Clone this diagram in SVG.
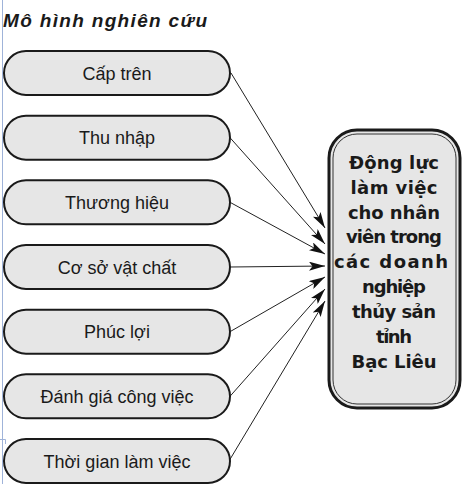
<svg xmlns="http://www.w3.org/2000/svg" width="468" height="492" viewBox="0 0 468 492">
<style>
.pill{fill:#e6e6e6;stroke:#1a1a1a;stroke-width:2}
.pt{font-family:"Liberation Sans",Arial,sans-serif;font-size:18px;fill:#1a1a1a;text-anchor:middle}
.tt{font-family:"DejaVu Sans","Liberation Sans",sans-serif;font-weight:bold;font-size:18px;fill:#1a1a1a;text-anchor:middle}
.conn{stroke:#222;stroke-width:1;fill:none}
</style>
<defs>
<marker id="ah" viewBox="0 0 16 9" refX="16" refY="4.5" markerWidth="16" markerHeight="9" orient="auto" markerUnits="userSpaceOnUse">
<path d="M0,0 L16,4.5 L0,9 L3.5,4.5 z" fill="#111"/>
</marker>
</defs>
<rect width="468" height="492" fill="#ffffff"/>
<g id="margin" stroke="#9fb3d9" stroke-width="1" fill="none">
<line x1="2.5" y1="0" x2="2.5" y2="484"/>
<polyline points="0,439.5 5.5,439.5 5.5,444"/>
</g>
<text id="title" x="3" y="27" font-family="'Liberation Sans',Arial,sans-serif" font-weight="bold" font-style="italic" font-size="19" fill="#1a1a1a" textLength="204" lengthAdjust="spacing">Mô hình nghiên cứu</text>
<g id="connectors">
<line class="conn" x1="231" y1="73" x2="325" y2="228" marker-end="url(#ah)"/>
<line class="conn" x1="230" y1="137.7" x2="325" y2="244" marker-end="url(#ah)"/>
<line class="conn" x1="230" y1="202.3" x2="325" y2="254" marker-end="url(#ah)"/>
<line class="conn" x1="230" y1="267" x2="325" y2="266" marker-end="url(#ah)"/>
<line class="conn" x1="230" y1="331.7" x2="325" y2="277" marker-end="url(#ah)"/>
<line class="conn" x1="230" y1="396.3" x2="325" y2="289" marker-end="url(#ah)"/>
<line class="conn" x1="229" y1="461" x2="325" y2="301" marker-end="url(#ah)"/>
</g>
<g id="n1"><rect class="pill" x="4" y="51" width="226" height="44" rx="22"/><text class="pt" x="117" y="79.5">Cấp trên</text></g>
<g id="n2"><rect class="pill" x="4" y="115.7" width="226" height="44" rx="22"/><text class="pt" x="117" y="144.2">Thu nhập</text></g>
<g id="n3"><rect class="pill" x="4" y="180.3" width="226" height="44" rx="22"/><text class="pt" x="117" y="208.8">Thương hiệu</text></g>
<g id="n4"><rect class="pill" x="4" y="245" width="226" height="44" rx="22"/><text class="pt" x="117" y="273.5">Cơ sở vật chất</text></g>
<g id="n5"><rect class="pill" x="4" y="309.7" width="226" height="44" rx="22"/><text class="pt" x="117" y="338.2">Phúc lợi</text></g>
<g id="n6"><rect class="pill" x="4" y="374.3" width="226" height="44" rx="22"/><text class="pt" x="117" y="402.8">Đánh giá công việc</text></g>
<g id="n7"><rect class="pill" x="4" y="439" width="226" height="44" rx="22"/><text class="pt" x="117" y="467.5">Thời gian làm việc</text></g>
<g id="target">
<rect x="329" y="130" width="131" height="278" rx="28" fill="#e6e6e6" stroke="#1a1a1a" stroke-width="3"/>
<rect x="333" y="134" width="123" height="270" rx="24" fill="none" stroke="#333" stroke-width="1"/>
<text class="tt" x="394" y="169" textLength="90" lengthAdjust="spacing">Động lực</text>
<text class="tt" x="394" y="194" textLength="87" lengthAdjust="spacing">làm việc</text>
<text class="tt" x="394" y="218.5" textLength="92" lengthAdjust="spacing">cho nhân</text>
<text class="tt" x="394" y="243" textLength="96" lengthAdjust="spacing">viên trong</text>
<text class="tt" x="391" y="268" textLength="114" lengthAdjust="spacing">các doanh</text>
<text class="tt" x="394" y="293" textLength="64" lengthAdjust="spacing">nghiệp</text>
<text class="tt" x="394" y="318" textLength="84" lengthAdjust="spacing">thủy sản</text>
<text class="tt" x="394" y="343" textLength="36" lengthAdjust="spacing">tỉnh</text>
<text class="tt" x="394" y="368" textLength="85" lengthAdjust="spacing">Bạc Liêu</text>
</g>
</svg>
